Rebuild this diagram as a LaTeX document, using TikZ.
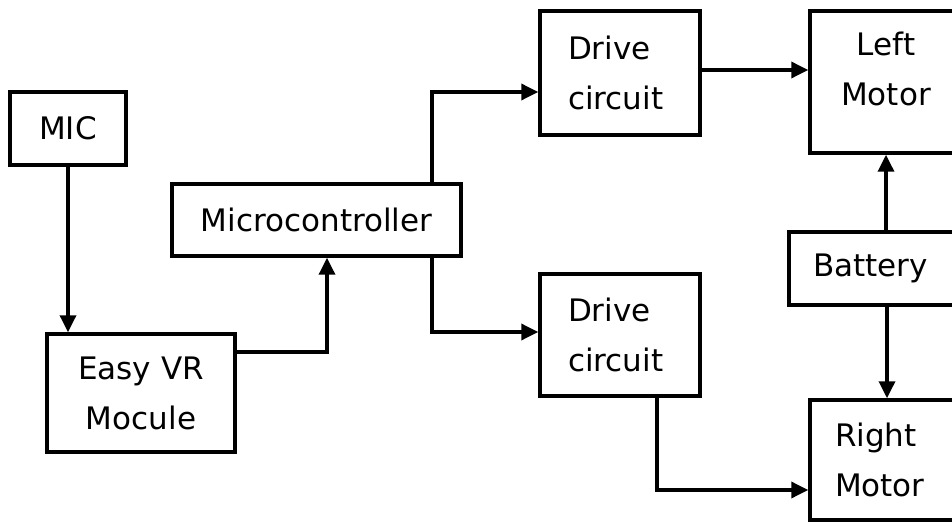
\documentclass[tikz,border=0pt]{standalone}
\usepackage{fontspec}
\setmainfont{DejaVu Sans}
\usepackage{tikz}
\usetikzlibrary{arrows.meta,positioning,calc}
\newlength{\RobotFigureUnit}
\setlength{\RobotFigureUnit}{1pt}
\newcommand{\RobotFigureFont}{\fontsize{31pt}{50pt}\selectfont}

\begin{document}
\begin{tikzpicture}[x=\RobotFigureUnit,y=-\RobotFigureUnit]
    \tikzset{
        robot flow/.style={-{Triangle[length=17pt,width=16pt]}, line width=3.5pt,
            draw=black},
        robot block/.style={draw=black, line width=3.5pt, inner sep=0pt,
            font=\RobotFigureFont}
    }
    \clip[use as bounding box] (0,0) rectangle (952,526);

    % blocks
    \node[robot block, minimum width=116pt, minimum height=73pt]
        (robot-mic) at (68,128.5) {MIC};
    \node[robot block, minimum width=188pt, minimum height=118pt, align=center]
        (robot-module) at (141,393) {Easy VR\\Mocule};
    \node[robot block, minimum width=289pt, minimum height=72pt]
        (robot-mcu) at (316.5,220) {Microcontroller};
    \node[robot block, minimum width=160pt, minimum height=124pt, align=left,
        text width=104pt] (robot-drive-1) at (620,73) {Drive\\circuit};
    \node[robot block, minimum width=160pt, minimum height=122pt, align=left,
        text width=104pt] (robot-drive-2) at (620,335) {Drive\\circuit};
    \node[robot block, minimum width=152pt, minimum height=142pt, align=center]
        (robot-left-motor) at (886,82) {Left\\Motor\\[-24pt]};
    \node[robot block, minimum width=171pt, minimum height=73pt, align=left,
        text width=123pt] (robot-battery) at (874.5,268.5) {Battery};
    \node[robot block, minimum width=154pt, minimum height=120pt, align=left,
        text width=104pt] (robot-right-motor) at (887,460) {Right\\Motor};

    % connections
    \draw[robot flow] (robot-mic.south) -- (robot-mic.south |- robot-module.north);
    \draw[robot flow] ([yshift=41pt]robot-module.east) -| ([xshift=10.5pt]robot-mcu.south);
    \draw[robot flow] ([xshift=115.5pt]robot-mcu.north) |- ([yshift=-19pt]robot-drive-1.west);
    \draw[robot flow] ([xshift=115.5pt]robot-mcu.south) |- ([yshift=3pt]robot-drive-2.west);
    \draw[robot flow] ([yshift=3pt]robot-drive-1.east)
        -- ([yshift=3pt]robot-drive-1.east -| robot-left-motor.west);
    \draw[robot flow] (robot-left-motor.south |- robot-battery.north) -- (robot-left-motor.south);
    \draw[robot flow] (robot-right-motor.north |- robot-battery.south) -- (robot-right-motor.north);
    \draw[robot flow] ([xshift=37pt]robot-drive-2.south) |- ([yshift=-30pt]robot-right-motor.west);
\end{tikzpicture}
\end{document}
